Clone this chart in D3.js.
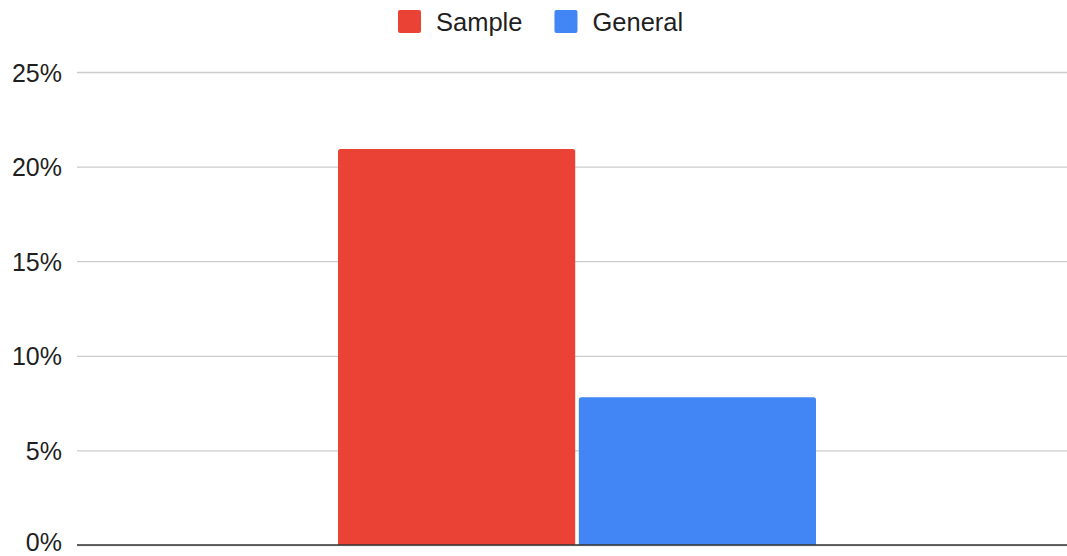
<!DOCTYPE html>
<html>
<head>
<meta charset="utf-8">
<script src="https://cdn.jsdelivr.net/npm/d3@7"></script>
<style>
  html, body { margin: 0; padding: 0; background: #fff; }
  svg { display: block; font-family: "Liberation Sans", Arial, Helvetica, sans-serif; }
</style>
</head>
<body>
<svg id="chart" width="1067" height="556"></svg>
<script>
// Chart data
const categories = ["Group"];
const seriesNames = ["Sample", "General"];
const seriesValues = [20.93, 7.81]; // percent
const seriesColors = ["#EA4335", "#4285F4"];
const yTicks = [0, 5, 10, 15, 20, 25];
const yTickLabels = ["0%", "5%", "10%", "15%", "20%", "25%"];

const svg = d3.select("#chart");
const plot = { left: 77, right: 1077, top: 72, bottom: 545 };

const y = d3.scaleLinear().domain([0, 25]).range([plot.bottom, plot.top]);

const x0 = d3.scaleBand()
  .domain(categories)
  .range([plot.left, plot.right])
  .paddingInner(0)
  .paddingOuter(0.546);

const x1 = d3.scaleBand()
  .domain(seriesNames)
  .range([0, x0.bandwidth()])
  .paddingInner(0.015)
  .paddingOuter(0);

// Gridlines and tick labels
const yAxis = d3.axisLeft(y)
  .tickValues(yTicks)
  .tickSize(-(plot.right - plot.left))
  .tickPadding(15)
  .tickFormat((d, i) => yTickLabels[i]);

const gy = svg.append("g")
  .attr("transform", `translate(${plot.left},0)`)
  .call(yAxis);
gy.select(".domain").remove();
gy.selectAll(".tick line")
  .attr("stroke", "#cccccc")
  .attr("stroke-width", 1.3);
gy.selectAll(".tick text")
  .attr("fill", "#1f1f1f")
  .attr("font-size", 25)
  .attr("dy", "0.36em");
// keep the bottom label inside the canvas
gy.selectAll(".tick text")
  .filter(d => d === 0)
  .attr("dy", "0.2em");

// Bars
const group = svg.append("g")
  .selectAll("g")
  .data(categories)
  .join("g")
  .attr("transform", d => `translate(${x0(d)},0)`);

const r = 2.5;
group.selectAll("path")
  .data(() => seriesNames.map((name, i) => ({ name, value: seriesValues[i], color: seriesColors[i] })))
  .join("path")
  .attr("fill", d => d.color)
  .attr("d", d => {
    const xa = x1(d.name), xb = xa + x1.bandwidth();
    const yt = y(d.value), yb = y(0);
    return `M${xa},${yb} V${yt + r} Q${xa},${yt} ${xa + r},${yt} H${xb - r} Q${xb},${yt} ${xb},${yt + r} V${yb} Z`;
  });

// Baseline
svg.append("line")
  .attr("x1", plot.left).attr("x2", plot.right)
  .attr("y1", y(0)).attr("y2", y(0))
  .attr("stroke", "#333333")
  .attr("stroke-width", 1.6);

// Legend
const legend = svg.append("g").attr("transform", "translate(398,10)");
const sw = 23;
let lx = 0;
seriesNames.forEach((name, i) => {
  const item = legend.append("g").attr("transform", `translate(${lx},0)`);
  item.append("rect")
    .attr("width", sw).attr("height", sw)
    .attr("rx", 2).attr("ry", 2)
    .attr("fill", seriesColors[i]);
  const t = item.append("text")
    .attr("x", sw + 15)
    .attr("y", sw / 2)
    .attr("dy", "0.36em")
    .attr("font-size", 25.5)
    .attr("fill", "#1f1f1f")
    .text(name);
  lx += sw + 15 + t.node().getComputedTextLength() + 32;
});
</script>
</body>
</html>
